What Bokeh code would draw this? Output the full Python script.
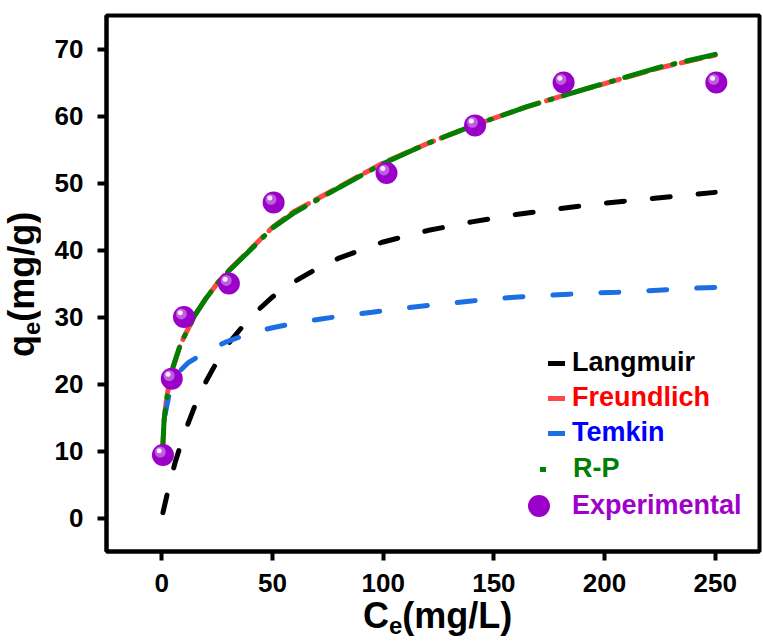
from bokeh.plotting import figure
from bokeh.models import (FixedTicker, Legend, LegendItem, ColumnDataSource, Range1d, Div)
from bokeh.layouts import row, column
from bokeh.transform import dodge
from bokeh.embed import file_html
from bokeh.resources import INLINE

# ---- data ----
exp_ce = [0.5, 4.5, 10.0, 30.3, 50.5, 101.5, 141.5, 181.5, 250.5]
exp_qe = [9.4, 20.8, 30.0, 35.0, 47.1, 51.5, 58.6, 65.0, 65.0]

lang_ce = [0.5, 3, 6, 10, 15, 20, 25, 30, 40, 50, 60, 70, 80, 100, 120, 140, 160, 180, 200, 225, 250]
lang_qe = [0.8, 4.4, 8.3, 12.5, 16.8, 20.4, 23.4, 26.0, 30.0, 33.0, 35.3, 37.2, 38.8, 41.2, 42.9, 44.2, 45.3, 46.2, 47.0, 47.8, 48.6]

freu_ce = [0.4, 1, 2, 3, 5, 8, 10, 15, 20, 25, 30, 40, 50, 60, 80, 100, 120, 140, 165, 190, 225, 250]
freu_qe = [10.3, 14.4, 17.5, 19.5, 22.4, 25.5, 27.0, 30.3, 32.8, 35.0, 36.9, 40.1, 43.4, 45.8, 49.4, 53.0, 55.9, 58.5, 61.4, 63.9, 67.2, 69.1]

temk_ce = [1.5, 3, 5, 8.6, 12, 19, 28.5, 40, 50, 62, 72, 84, 95, 106, 117, 128, 140, 150, 161, 173, 184, 195, 206, 218, 229, 240, 250]
temk_qe = [15.5, 18.0, 20.0, 22.1, 23.2, 24.6, 26.2, 27.6, 28.4, 29.2, 29.7, 30.3, 30.7, 31.2, 31.6, 32.0, 32.4, 32.7, 33.0, 33.2, 33.4, 33.6, 33.7, 33.9, 34.1, 34.3, 34.4]

rp_ce = [0.4, 1, 2, 3, 5, 8, 10, 15, 20, 25, 30, 40, 50, 60, 80, 100, 120, 140, 165, 190, 225, 250]
rp_qe = [10.5, 14.5, 17.5, 19.5, 22.5, 25.5, 27.0, 30.3, 32.8, 35.0, 36.8, 40.0, 43.3, 45.6, 49.3, 52.9, 55.9, 58.5, 61.4, 63.9, 67.3, 69.2]

x_ticks = [0, 50, 100, 150, 200, 250]
y_ticks = [0, 10, 20, 30, 40, 50, 60, 70]

FONT = "Liberation Sans"

p = figure(width=722, height=599, output_backend="svg", toolbar_location=None,
           x_range=Range1d(-25, 270), y_range=Range1d(-5, 75),
           min_border_left=66, min_border_right=3, min_border_top=15, min_border_bottom=48)

p.background_fill_color = "white"
p.border_fill_color = "white"
p.outline_line_color = "black"
p.outline_line_width = 4
p.xgrid.visible = False
p.ygrid.visible = False

for ax, ticks in ((p.xaxis[0], x_ticks), (p.yaxis[0], y_ticks)):
    ax.ticker = FixedTicker(ticks=ticks)
    ax.axis_line_width = 4
    ax.major_tick_line_width = 4
    ax.major_tick_out = 9
    ax.major_tick_in = 0
    ax.minor_tick_out = 0
    ax.minor_tick_in = 0
    ax.major_label_text_font = FONT
    ax.major_label_text_font_style = "bold"
    ax.major_label_text_font_size = "26px"
    ax.major_label_text_color = "black"
p.xaxis.major_label_standoff = 13
p.yaxis.major_label_standoff = 14

r_lang = p.line(lang_ce, lang_qe, line_color="black", line_width=5,
                line_dash="18 28", line_cap="round")
r_freu = p.line(freu_ce, freu_qe, line_color="#FF4747", line_width=5,
                line_dash="20 8", line_cap="round")
r_temk = p.line(temk_ce, temk_qe, line_color="#1C6FE3", line_width=5,
                line_dash="18 30", line_cap="round")
r_rp = p.line(rp_ce, rp_qe, line_color="#008000", line_width=5,
              line_dash="38 12 2 12", line_cap="round")

src = ColumnDataSource(dict(x=exp_ce, y=exp_qe))
r_exp = p.scatter("x", "y", source=src, size=22, fill_color="#9A00C8", line_color=None)
p.scatter(x=dodge("x", -1.2), y=dodge("y", 0.45), source=src, size=11,
          fill_color="#BE5EDF", line_color=None)
p.scatter(x=dodge("x", -1.7), y=dodge("y", 0.65), source=src, size=5,
          fill_color="#F8EEFB", line_color=None)

# (label, renderer, text colour, x, y (bottom-left, frame px), glyph w, glyph h, standoff)
legend_specs = [
    ("Langmuir", r_lang, "black", 442, 173, 17, 30, 7),
    ("Freundlich", r_freu, "#FF0000", 442, 138, 17, 30, 7),
    ("Temkin", r_temk, "#0000FF", 442, 103, 17, 30, 7),
    ("R-P", r_rp, "#008000", 434, 67, 6, 30, 27),
    ("Experimental", r_exp, "#A000CC", 405, 18, 55, 55, 6),
]
for label, rend, color, lx, ly, gw, gh, stand in legend_specs:
    lg = Legend(items=[LegendItem(label=label, renderers=[rend])],
                location=(lx, ly), padding=0, margin=0, spacing=0,
                glyph_width=gw, glyph_height=gh, label_height=gh,
                label_standoff=stand,
                label_text_font=FONT, label_text_font_style="bold",
                label_text_font_size="27px", label_text_color=color,
                label_text_baseline="middle",
                background_fill_alpha=0, border_line_alpha=0)
    p.add_layout(lg)

TXT = "font-family:'Liberation Sans';font-weight:bold;font-size:36px;line-height:36px;white-space:nowrap;color:black;"
SUB = "font-size:24px;position:relative;top:6px;"

xlab = Div(width=722, height=42, margin=0, styles={"overflow": "visible"},
           text=f'<div style="position:relative;left:323px;top:-1px;{TXT}">C<span style="{SUB}">e</span>(mg/L)</div>')
ylab = Div(width=40, height=641, margin=0, styles={"overflow": "visible"},
           text=f'<div style="position:relative;left:3.5px;top:357px;transform:rotate(-90deg);transform-origin:0 0;{TXT}">q<span style="{SUB}">e</span>(mg/g)</div>')

layout = row(ylab, column(p, xlab, spacing=0, margin=0), spacing=0, margin=0)

open("out.html", "w").write(file_html(layout, INLINE))
